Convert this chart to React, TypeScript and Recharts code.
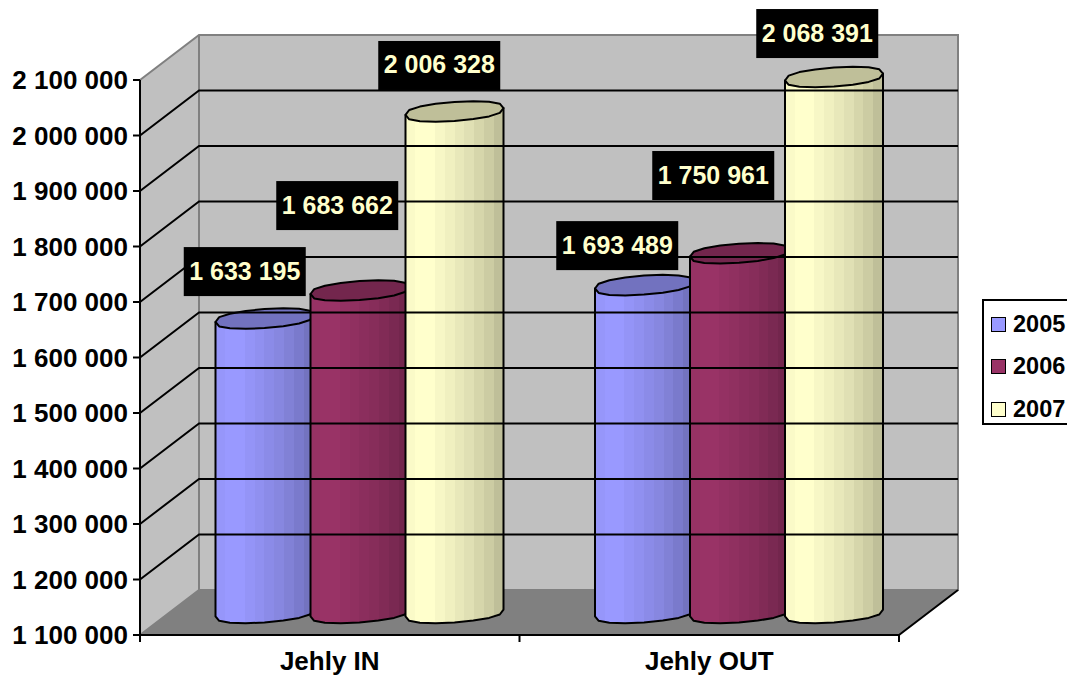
import { Bar, BarChart, LabelList, Legend, ReferenceLine, XAxis, YAxis, usePlotArea } from "recharts";

const categories = ["Jehly IN", "Jehly OUT"];
const years = ["2005", "2006", "2007"];
const values2005 = [1633195, 1693489];
const values2006 = [1683662, 1750961];
const values2007 = [2006328, 2068391];
const yTicks = [1100000, 1200000, 1300000, 1400000, 1500000, 1600000, 1700000, 1800000, 1900000, 2000000, 2100000];

const table = categories.map((name, i) => ({
  name,
  "2005": values2005[i],
  "2006": values2006[i],
  "2007": values2007[i],
}));

const FONT = "'Liberation Sans', Arial, sans-serif";
const DEPTH_X = 59;
const DEPTH_Y = 45;
const SHIFT_X = 29.5;
const SHIFT_Y = 20.5;
const RY = 9.5;
const TILT = -0.07;

const colors: Record<string, string> = { "2005": "#9999ff", "2006": "#993366", "2007": "#ffffcc" };
const tops: Record<string, string> = { "2005": "#7272bf", "2006": "#73264d", "2007": "#bfbf99" };
const labelShift: Record<string, number[][]> = {
  "2005": [[-19.75, -67.5], [-26.75, -60]],
  "2006": [[-22.25, -105.5], [-25.75, -98.2]],
  "2007": [[-15.25, -66.5], [-16.75, -64]],
};
const bands = [0.98, 1, 1, 0.97, 0.94, 0.91, 0.88, 0.84, 0.8, 0.75];

const fmt = (v: number) => String(v).replace(/\B(?=(\d{3})+$)/g, " ");

function shade(hex: string, f: number) {
  const n = parseInt(hex.slice(1), 16);
  const c = [(n >> 16) & 255, (n >> 8) & 255, n & 255].map((v) => Math.round(v * f));
  return `rgb(${c.join(",")})`;
}

function ringPoint(cx: number, cy: number, rx: number, a: number) {
  const x = cx + rx * Math.cos(a);
  const s = Math.sin(a);
  const y = cy + RY * Math.sign(s) * Math.pow(Math.abs(s), 0.75) + TILT * (x - cx);
  return `${x.toFixed(1)} ${y.toFixed(1)}`;
}

function makeCylinder(year: string) {
  return function Cylinder(props: any) {
    const { x, y, width, height } = props;
    const left = x + SHIFT_X;
    const cx = left + width / 2;
    const rx = width / 2;
    const topY = y - SHIFT_Y;
    const baseY = y + height - SHIFT_Y - 1.5;
    const steps = 8;
    const lower: string[] = [];
    for (let i = steps; i >= 0; i--) lower.push(ringPoint(cx, baseY, rx, (Math.PI * i) / steps));
    const ring: string[] = [];
    for (let i = 0; i < steps * 2; i++) ring.push(ringPoint(cx, topY, rx, (Math.PI * i) / steps));
    const gid = `cyl-${year}`;
    const stops = bands.flatMap((f, i) => [
      <stop key={`a${i}`} offset={i / bands.length} stopColor={shade(colors[year], f)} />,
      <stop key={`b${i}`} offset={(i + 1) / bands.length} stopColor={shade(colors[year], f)} />,
    ]);
    return (
      <g>
        <defs>
          <linearGradient id={gid} x1="0" y1="0" x2="1" y2="0">
            {stops}
          </linearGradient>
        </defs>
        <path
          d={`M ${ringPoint(cx, topY, rx, Math.PI)} L ${lower.join(" L ")} L ${ringPoint(cx, topY, rx, 0)} Z`}
          fill={`url(#${gid})`}
          stroke="#000"
          strokeWidth={2}
          strokeLinejoin="round"
        />
        <path d={`M ${ring.join(" L ")} Z`} fill={tops[year]} stroke="#000" strokeWidth={2} strokeLinejoin="round" />
      </g>
    );
  };
}

function makeLabel(year: string) {
  return function ValueBox(props: any) {
    const { x, y, width, value, index } = props;
    const [dx, dy] = labelShift[year][index];
    const cx = x + width / 2 + SHIFT_X + dx;
    const cy = y + dy;
    return (
      <g>
        <rect x={cx - 61} y={cy - 24.5} width={122} height={49} fill="#000" />
        <text x={cx} y={cy + 8} textAnchor="middle" fill="#ffffcc" fontFamily={FONT} fontWeight="bold" fontSize={25}>
          {fmt(value)}
        </text>
      </g>
    );
  };
}

// back wall, side wall, floor
function Walls() {
  const plot = usePlotArea();
  if (!plot) return null;
  const l = plot.x;
  const r = plot.x + plot.width;
  const t = plot.y;
  const b = plot.y + plot.height;
  return (
    <g>
      <path d={`M ${l} ${t} L ${l + DEPTH_X} ${t - DEPTH_Y} L ${r + DEPTH_X} ${t - DEPTH_Y} L ${r + DEPTH_X} ${b - DEPTH_Y} L ${l + DEPTH_X} ${b - DEPTH_Y} L ${l} ${b} Z`} fill="#c0c0c0" />
      <path d={`M ${l} ${b} L ${l + DEPTH_X} ${b - DEPTH_Y} L ${r + DEPTH_X} ${b - DEPTH_Y} L ${r} ${b} Z`} fill="#808080" />
      <path d={`M ${l} ${t} L ${l + DEPTH_X} ${t - DEPTH_Y} L ${r + DEPTH_X} ${t - DEPTH_Y} L ${r + DEPTH_X} ${b - DEPTH_Y} L ${l + DEPTH_X} ${b - DEPTH_Y} L ${l} ${b} M ${l + DEPTH_X} ${t - DEPTH_Y} L ${l + DEPTH_X} ${b - DEPTH_Y}`} fill="none" stroke="#808080" strokeWidth={2} />
    </g>
  );
}

function Edges() {
  const plot = usePlotArea();
  if (!plot) return null;
  const l = plot.x;
  const r = plot.x + plot.width;
  const t = plot.y;
  const b = plot.y + plot.height;
  const m = l + plot.width / 2;
  return (
    <path
      d={`M ${l} ${t} V ${b} H ${r} M ${l} ${b} V ${b + 7} M ${m} ${b} V ${b + 7} M ${r} ${b} V ${b + 7} M ${r} ${b} L ${r + DEPTH_X} ${b - DEPTH_Y}`}
      stroke="#000"
      strokeWidth={2}
      fill="none"
    />
  );
}

function GridLine(props: any) {
  const { x1, x2, y1 } = props;
  return (
    <path
      d={`M ${x1} ${y1} L ${x1 + DEPTH_X} ${y1 - DEPTH_Y} L ${x2 + DEPTH_X} ${y1 - DEPTH_Y}`}
      fill="none"
      stroke="#000"
      strokeWidth={2}
    />
  );
}

function LegendBox() {
  return (
    <div style={{ width: 95, height: 126, border: "2px solid #000", background: "#fff", boxSizing: "border-box", position: "relative" }}>
      {years.map((year, i) => (
        <div key={year} style={{ position: "absolute", left: 7, top: 13 + i * 42.5, display: "flex", alignItems: "center", height: 20 }}>
          <span style={{ width: 13, height: 13, background: colors[year], border: "1.5px solid #000", display: "inline-block", marginRight: 7 }} />
          <span style={{ fontFamily: FONT, fontWeight: "bold", fontSize: 23.5, color: "#000" }}>{year}</span>
        </div>
      ))}
    </div>
  );
}

export default function App() {
  const tickStyle = { fill: "#000", fontFamily: FONT, fontWeight: "bold", fontSize: 26 };
  return (
    <div style={{ position: "absolute", left: 0, top: 0, width: 1067, height: 678, overflow: "hidden", background: "#fff" }}>
      <BarChart
        width={1067}
        height={678}
        data={table}
        margin={{ top: 80, right: 168, bottom: 0, left: 0 }}
        barCategoryGap={45.75}
        barGap={-3}
        barSize={98}
      >
        <Walls />
        {yTicks.slice(1, -1).map((t) => (
          <ReferenceLine key={t} y={t} shape={GridLine} />
        ))}
        <XAxis
          dataKey="name"
          tick={tickStyle}
          tickLine={false}
          axisLine={false}
          tickMargin={11}
          height={43}
        />
        <YAxis
          domain={[1100000, 2100000]}
          ticks={yTicks}
          interval={0}
          tickFormatter={fmt}
          tick={tickStyle}
          width={140}
          tickSize={7}
          tickMargin={5}
          tickLine={{ stroke: "#000", strokeWidth: 2 }}
          axisLine={false}
        />
        <Legend
          layout="vertical"
          align="center"
          verticalAlign="middle"
          content={<LegendBox />}
          wrapperStyle={{ position: "absolute", left: 982, top: 299, width: 95, height: 126 }}
        />
        <Edges />
        {years.map((year) => (
          <Bar key={year} dataKey={year} fill={colors[year]} shape={makeCylinder(year)} isAnimationActive={false}>
            <LabelList dataKey={year} content={makeLabel(year)} />
          </Bar>
        ))}
      </BarChart>
    </div>
  );
}
